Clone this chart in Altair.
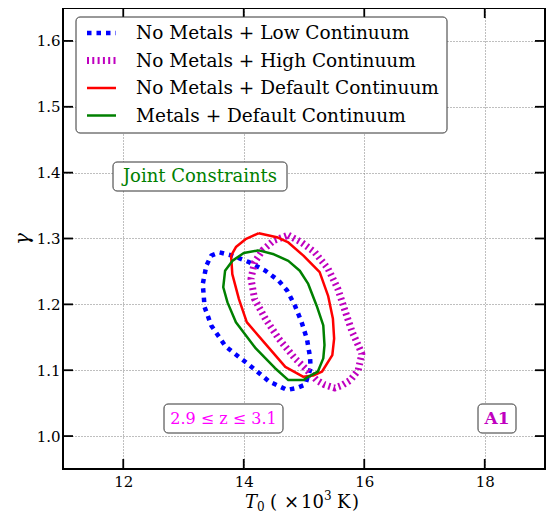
import altair as alt
import pandas as pd

# ---------------- data ----------------
series_names = [
    "No Metals + Low Continuum",
    "No Metals + High Continuum",
    "No Metals + Default Continuum",
    "Metals + Default Continuum",
]
series_colors = ["#0000ff", "#bf00bf", "#ff0000", "#008000"]

low_T0 = [13.60, 13.81, 14.09, 14.36, 14.58, 14.72, 14.85, 14.96, 15.05, 15.10,
          15.11, 15.02, 14.88, 14.72, 14.42, 14.09, 13.70, 13.46, 13.35, 13.32,
          13.38, 13.46]
low_gamma = [1.279, 1.274, 1.264, 1.251, 1.236, 1.221, 1.198, 1.173, 1.147, 1.120,
             1.103, 1.078, 1.073, 1.070, 1.083, 1.108, 1.136, 1.168, 1.196, 1.231,
             1.259, 1.274]

high_T0 = [14.74, 14.96, 15.18, 15.40, 15.56, 15.70, 15.80, 15.90, 15.96, 15.90,
           15.77, 15.63, 15.51, 15.34, 15.21, 15.02, 14.85, 14.58, 14.36, 14.18,
           14.12, 14.18, 14.31, 14.50]
high_gamma = [1.305, 1.294, 1.279, 1.254, 1.224, 1.185, 1.158, 1.138, 1.125, 1.100,
              1.085, 1.077, 1.073, 1.078, 1.085, 1.103, 1.118, 1.148, 1.178, 1.208,
              1.239, 1.264, 1.282, 1.297]

default_T0 = [14.25, 14.55, 14.74, 14.99, 15.26, 15.40, 15.48, 15.50, 15.47, 15.30,
              15.15, 14.99, 14.69, 14.36, 14.05, 13.92, 13.81, 13.79, 13.87, 14.03]
default_gamma = [1.308, 1.302, 1.294, 1.274, 1.249, 1.213, 1.178, 1.148, 1.123, 1.098,
                 1.092, 1.090, 1.105, 1.140, 1.173, 1.208, 1.246, 1.274, 1.287, 1.299]

metals_T0 = [14.25, 14.50, 14.74, 14.93, 15.07, 15.21, 15.32, 15.34, 15.32, 15.23,
             15.07, 14.99, 14.74, 14.52, 14.20, 13.87, 13.73, 13.66, 13.69, 13.81,
             14.00]
metals_gamma = [1.282, 1.276, 1.266, 1.251, 1.231, 1.198, 1.168, 1.138, 1.118, 1.098,
                1.090, 1.085, 1.085, 1.103, 1.133, 1.173, 1.203, 1.226, 1.251, 1.266,
                1.278]

x_ticks = [12, 14, 16, 18]
y_ticks = [1.0, 1.1, 1.2, 1.3, 1.4, 1.5, 1.6]

joint_label = "Joint Constraints"
range_label = "2.9 ≤ z ≤ 3.1"
panel_label = "A1"

# ---------------- layout / style ----------------
X_DOM = [11, 19]
Y_DOM = [0.95, 1.65]
W, H = 482, 461
FONT = "DejaVu Serif"
TICK = 10


def closed(xs, ys):
    df = pd.DataFrame({"T0": list(xs) + [xs[0]], "gamma": list(ys) + [ys[0]]})
    df["i"] = range(len(df))
    return df


xscale = alt.Scale(domain=X_DOM, nice=False, zero=False)
yscale = alt.Scale(domain=Y_DOM, nice=False, zero=False)
xaxis = alt.Axis(values=x_ticks, grid=True, gridDash=[1, 2], gridColor="#7f7f7f",
                 gridWidth=1, domain=False, ticks=False, labelFont=FONT,
                 labelFontSize=15, labelColor="black", labelPadding=5, title=None)
yaxis = alt.Axis(values=y_ticks, format=".1f", grid=True, gridDash=[1, 2],
                 gridColor="#7f7f7f", gridWidth=1, domain=False, ticks=False,
                 labelFont=FONT, labelFontSize=15, labelColor="black",
                 labelPadding=3, title="γ", titleFont=FONT, titleFontSize=20,
                 titleFontStyle="italic", titleFontWeight="normal",
                 titleColor="black", titlePadding=4)


def xenc(f):
    return alt.X(f"{f}:Q", scale=xscale, axis=xaxis)


def yenc(f):
    return alt.Y(f"{f}:Q", scale=yscale, axis=yaxis)


styles = [
    dict(strokeWidth=4.5, strokeDash=[4.5, 5], strokeCap="butt"),
    dict(strokeWidth=7, strokeDash=[2, 3.3], strokeCap="butt"),
    dict(strokeWidth=2.5),
    dict(strokeWidth=2.5),
]
curves = [(low_T0, low_gamma), (high_T0, high_gamma),
          (default_T0, default_gamma), (metals_T0, metals_gamma)]

layers = []
for (xs, ys), col, st in zip(curves, series_colors, styles):
    layers.append(
        alt.Chart(closed(xs, ys)).mark_line(color=col, strokeJoin="round", **st)
        .encode(x=xenc("T0"), y=yenc("gamma"), order="i:Q")
    )

# inward ticks on all four sides
xt = pd.DataFrame({"t": x_ticks})
yt = pd.DataFrame({"t": y_ticks})
tick_style = dict(color="black", strokeWidth=1.8)
layers += [
    alt.Chart(xt).mark_rule(**tick_style).encode(x=xenc("t"), y=alt.value(0), y2=alt.value(TICK)),
    alt.Chart(xt).mark_rule(**tick_style).encode(x=xenc("t"), y=alt.value(H), y2=alt.value(H - TICK)),
    alt.Chart(yt).mark_rule(**tick_style).encode(y=yenc("t"), x=alt.value(0), x2=alt.value(TICK)),
    alt.Chart(yt).mark_rule(**tick_style).encode(y=yenc("t"), x=alt.value(W), x2=alt.value(W - TICK)),
]

one = pd.DataFrame({"a": [0]})


def box(x1, x2, y1, y2):
    return alt.Chart(one).mark_rect(fill="white", stroke="#333333", strokeWidth=1,
                                    cornerRadius=4).encode(
        x=alt.value(x1), x2=alt.value(x2), y=alt.value(y1), y2=alt.value(y2))


def label(txt, x, y, size, color="black", align="left", baseline="middle",
          style="normal", weight="normal"):
    return alt.Chart(one).mark_text(align=align, baseline=baseline, font=FONT,
                                    fontSize=size, color=color, fontStyle=style,
                                    fontWeight=weight).encode(
        x=alt.value(x), y=alt.value(y), text=alt.value(txt))


# legend
layers.append(box(13, 384, 9, 125))
leg_y = [25, 52.5, 80, 107.5]
for name, col, st, yc in zip(series_names, series_colors, styles, leg_y):
    layers.append(alt.Chart(one).mark_rule(color=col, **st).encode(
        x=alt.value(24), x2=alt.value(53), y=alt.value(yc)))
    layers.append(label(name, 73, yc, 18.5))

# annotations
layers.append(box(50, 224, 154, 183))
layers.append(label(joint_label, 137, 169, 18, color="#008000", align="center"))
layers.append(box(101, 220, 396, 425))
layers.append(label(range_label, 160.5, 411, 16, color="#ff00ff", align="center"))
layers.append(box(415, 453, 396, 425))
layers.append(label(panel_label, 434, 411, 17, color="#bf00bf", align="center",
                    weight="bold"))

# x-axis title: T_0 ( x 10^3 K)
BL = 500
title_pieces = [
    ("T", 182, BL, 18, "italic"),
    ("0", 194, BL + 3, 12, "normal"),
    ("(", 207, BL, 18, "normal"),
    ("×", 221, BL, 18, "normal"),
    ("10", 238, BL, 18, "normal"),
    ("3", 261, BL - 8, 12, "normal"),
    ("K", 274, BL, 18, "normal"),
    (")", 289, BL, 18, "normal"),
]
for txt, x, y, s, fs in title_pieces:
    layers.append(label(txt, x, y, s, baseline="alphabetic", style=fs))

chart = alt.layer(*layers).properties(
    width=W, height=H,
    autosize=alt.AutoSizeParams(type="none"),
    padding={"left": 55, "top": 0, "right": 1, "bottom": 45},
).configure_view(stroke="black", strokeWidth=2)

chart.save("out.html", embed_options={"renderer": "svg", "actions": False})
